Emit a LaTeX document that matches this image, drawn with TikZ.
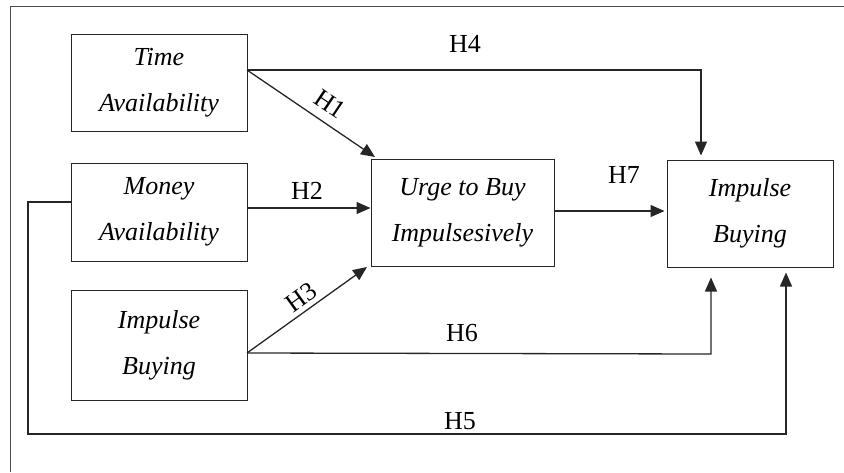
\documentclass[tikz,border=0pt]{standalone}
\usepackage{fontspec}
\setmainfont{Liberation Serif}
\usetikzlibrary{arrows.meta,calc}
\begin{document}
\begin{tikzpicture}[x=1pt,y=-1pt,
  box/.style={draw=black!85,line width=1pt,inner sep=0pt,align=center,
    font=\itshape\fontsize{26}{46}\selectfont},
  conn/.style={draw=black!85,line width=1.3pt},
  arr/.style={conn,-{Triangle[length=14pt,width=12pt]}},
  lab/.style={font=\fontsize{26}{28}\selectfont,inner sep=0pt}]
\useasboundingbox (0,0) rectangle (844,472);
\draw[draw=black!70,line width=1pt] (10,472) -- (10,6) -- (844,6);
\node[box,minimum width=176pt,minimum height=97pt] (ta) at (159,82.5) {Time\\Availability};
\node[box,minimum width=176pt,minimum height=98pt] (ma) at (159,212) {Money\\Availability};
\node[box,minimum width=176pt,minimum height=110pt] (ib) at (159,345) {Impulse\\Buying};
\node[box,minimum width=183pt,minimum height=107pt] (ub) at (462.5,212.5) {Urge to Buy\\Impulsesively};
\node[box,minimum width=166pt,minimum height=107pt] (ir) at (750,213.5) {Impulse\\Buying};
% anchor points
\coordinate (ta1) at (247,70);
\coordinate (ib1) at (247,353);
\coordinate (ma1) at (71,202);
\coordinate (h4c) at (701,70);
\coordinate (h1e) at (375,157);
\coordinate (h3e) at (367,267);
\coordinate (h6c) at (711,354);
\coordinate (h5a) at (28,202);
\coordinate (h5b) at (28,434);
\coordinate (h5c) at (786,434);
\coordinate (h2y) at (0,208);
\coordinate (h7y) at (0,211);
% connectors
\draw[arr] (ta1) -- (h4c) -- ($(h4c |- ir.north)+(0,-4)$);
\draw[arr] (ta1) -- (h1e);
\draw[arr] (ma.east |- h2y) -- (ub.west |- h2y);
\draw[arr] (ib1) -- (h3e);
\draw[arr] (ib1) -- (h6c) -- ($(h6c |- ir.south)+(0,10)$);
\draw[arr] (ma1) -- (h5a) -- (h5b) -- (h5c) -- ($(h5c |- ir.south)+(0,5)$);
\draw[arr] (ub.east |- h7y) -- ($(ir.west |- h7y)+(-2,0)$);
% labels
\node[lab] (l4) at (465,44) {H4};
\node[lab,rotate=-34] (l1) at (330,104) {H1};
\node[lab] (l2) at (307,191) {H2};
\node[lab,rotate=36] (l3) at (301,297) {H3};
\node[lab] (l7) at (624,175) {H7};
\node[lab] (l6) at (462,333) {H6};
\node[lab] (l5) at (460,421) {H5};
\end{tikzpicture}
\end{document}
